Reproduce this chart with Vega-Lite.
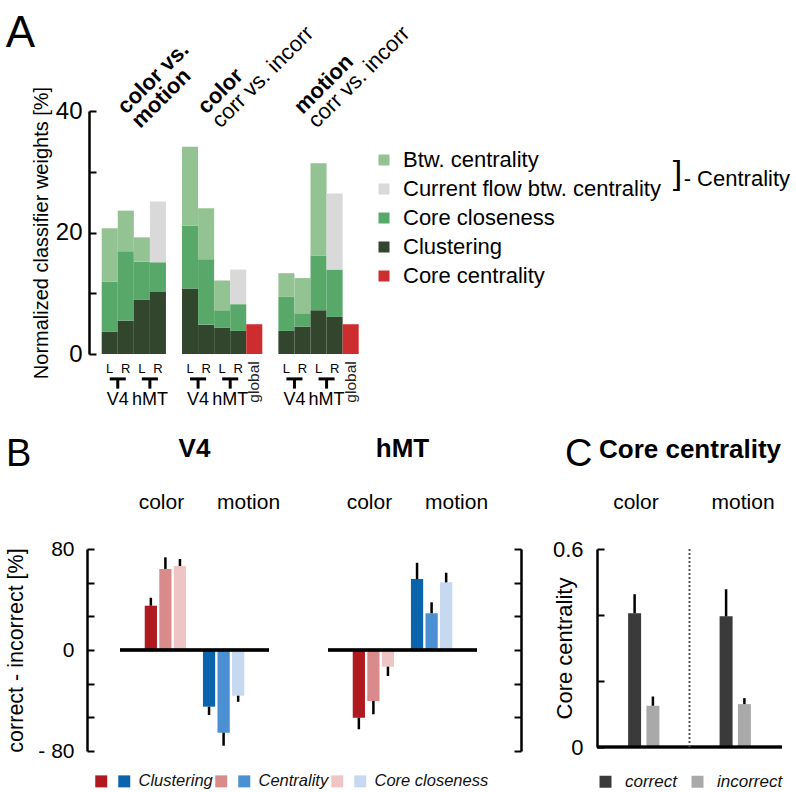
{
  "$schema": "https://vega.github.io/schema/vega-lite/v6.json",
  "padding": {"left": 5, "top": 8, "right": 5, "bottom": 0},
  "config": {
    "font": "Liberation Sans",
    "view": {"stroke": null},
    "axis": {"grid": false, "domainColor": "black", "tickColor": "black", "labelColor": "black", "titleColor": "black", "titleFontWeight": "normal", "labelFont": "Liberation Sans", "titleFont": "Liberation Sans"},
    "legend": {"labelColor": "#111", "labelFont": "Liberation Sans", "labelLimit": 400},
    "header": {"labelColor": "black", "labelFont": "Liberation Sans"},
    "title": {"color": "black", "fontWeight": "normal", "font": "Liberation Sans"},
    "text": {"font": "Liberation Sans", "color": "black"}
  },
  "datasets": {
    "A": [
      {"bar": "cm_V4_L", "seg": "Clustering", "value": 3.7},
      {"bar": "cm_V4_L", "seg": "Core closeness", "value": 8.2},
      {"bar": "cm_V4_L", "seg": "Btw. centrality", "value": 8.8},
      {"bar": "cm_V4_R", "seg": "Clustering", "value": 5.5},
      {"bar": "cm_V4_R", "seg": "Core closeness", "value": 11.4},
      {"bar": "cm_V4_R", "seg": "Btw. centrality", "value": 6.7},
      {"bar": "cm_hMT_L", "seg": "Clustering", "value": 8.9},
      {"bar": "cm_hMT_L", "seg": "Core closeness", "value": 6.3},
      {"bar": "cm_hMT_L", "seg": "Btw. centrality", "value": 4.0},
      {"bar": "cm_hMT_R", "seg": "Clustering", "value": 10.2},
      {"bar": "cm_hMT_R", "seg": "Core closeness", "value": 4.9},
      {"bar": "cm_hMT_R", "seg": "Current flow btw. centrality", "value": 10.0},
      {"bar": "co_V4_L", "seg": "Clustering", "value": 10.8},
      {"bar": "co_V4_L", "seg": "Core closeness", "value": 10.3},
      {"bar": "co_V4_L", "seg": "Btw. centrality", "value": 13.0},
      {"bar": "co_V4_R", "seg": "Clustering", "value": 4.8},
      {"bar": "co_V4_R", "seg": "Core closeness", "value": 10.8},
      {"bar": "co_V4_R", "seg": "Btw. centrality", "value": 8.4},
      {"bar": "co_hMT_L", "seg": "Clustering", "value": 4.3},
      {"bar": "co_hMT_L", "seg": "Core closeness", "value": 2.9},
      {"bar": "co_hMT_L", "seg": "Btw. centrality", "value": 4.9},
      {"bar": "co_hMT_R", "seg": "Clustering", "value": 3.8},
      {"bar": "co_hMT_R", "seg": "Core closeness", "value": 4.4},
      {"bar": "co_hMT_R", "seg": "Current flow btw. centrality", "value": 5.7},
      {"bar": "co_glob", "seg": "Core centrality", "value": 4.9},
      {"bar": "mo_V4_L", "seg": "Clustering", "value": 3.8},
      {"bar": "mo_V4_L", "seg": "Core closeness", "value": 5.6},
      {"bar": "mo_V4_L", "seg": "Btw. centrality", "value": 3.9},
      {"bar": "mo_V4_R", "seg": "Clustering", "value": 4.5},
      {"bar": "mo_V4_R", "seg": "Core closeness", "value": 2.2},
      {"bar": "mo_V4_R", "seg": "Btw. centrality", "value": 5.8},
      {"bar": "mo_hMT_L", "seg": "Clustering", "value": 7.2},
      {"bar": "mo_hMT_L", "seg": "Core closeness", "value": 9.0},
      {"bar": "mo_hMT_L", "seg": "Btw. centrality", "value": 15.2},
      {"bar": "mo_hMT_R", "seg": "Clustering", "value": 6.1},
      {"bar": "mo_hMT_R", "seg": "Core closeness", "value": 7.8},
      {"bar": "mo_hMT_R", "seg": "Current flow btw. centrality", "value": 12.5},
      {"bar": "mo_glob", "seg": "Core centrality", "value": 4.9}
    ],
    "Atitles": [
      {"bar": "cm_V4_L", "bold": "color vs.\nmotion", "normal": ""},
      {"bar": "co_V4_L", "bold": "color", "normal": "\ncorr vs. incorr"},
      {"bar": "mo_V4_L", "bold": "motion", "normal": "\ncorr vs. incorr"}
    ],
    "Agroups": [
      {"L": "cm_V4_L", "R": "cm_V4_R", "area": "V4"},
      {"L": "cm_hMT_L", "R": "cm_hMT_R", "area": "hMT"},
      {"L": "co_V4_L", "R": "co_V4_R", "area": "V4"},
      {"L": "co_hMT_L", "R": "co_hMT_R", "area": "hMT"},
      {"L": "mo_V4_L", "R": "mo_V4_R", "area": "V4"},
      {"L": "mo_hMT_L", "R": "mo_hMT_R", "area": "hMT"}
    ],
    "Aglobal": [{"bar": "co_glob"}, {"bar": "mo_glob"}],
    "B": [
      {"region": "V4", "task": "color", "measure": "Clustering", "series": "color|Clustering", "value": 35.1, "err": 41.4},
      {"region": "V4", "task": "color", "measure": "Centrality", "series": "color|Centrality", "value": 64.2, "err": 73.4},
      {"region": "V4", "task": "color", "measure": "Core closeness", "series": "color|Core closeness", "value": 66.5, "err": 72.1},
      {"region": "V4", "task": "motion", "measure": "Clustering", "series": "motion|Clustering", "value": -44.9, "err": -51.5},
      {"region": "V4", "task": "motion", "measure": "Centrality", "series": "motion|Centrality", "value": -65.5, "err": -75.8},
      {"region": "V4", "task": "motion", "measure": "Core closeness", "series": "motion|Core closeness", "value": -36.2, "err": -41.0},
      {"region": "hMT", "task": "color", "measure": "Clustering", "series": "color|Clustering", "value": -53.6, "err": -62.8},
      {"region": "hMT", "task": "color", "measure": "Centrality", "series": "color|Centrality", "value": -40.4, "err": -50.9},
      {"region": "hMT", "task": "color", "measure": "Core closeness", "series": "color|Core closeness", "value": -13.2, "err": -20.6},
      {"region": "hMT", "task": "motion", "measure": "Clustering", "series": "motion|Clustering", "value": 56.2, "err": 69.1},
      {"region": "hMT", "task": "motion", "measure": "Centrality", "series": "motion|Centrality", "value": 29.1, "err": 37.8},
      {"region": "hMT", "task": "motion", "measure": "Core closeness", "series": "motion|Core closeness", "value": 53.6, "err": 61.2}
    ],
    "C": [
      {"bar": "color|correct", "task": "color", "outcome": "correct", "value": 0.405, "err": 0.463},
      {"bar": "color|incorrect", "task": "color", "outcome": "incorrect", "value": 0.125, "err": 0.153},
      {"bar": "motion|correct", "task": "motion", "outcome": "correct", "value": 0.396, "err": 0.478},
      {"bar": "motion|incorrect", "task": "motion", "outcome": "incorrect", "value": 0.13, "err": 0.148}
    ]
  },
  "spacing": 27,
  "columns": 1,
  "align": "none",
  "resolve": {"scale": {"color": "independent"}, "legend": {"color": "independent"}},
  "concat": [
    {
      "width": 257,
      "height": 243,
      "layer": [
        {
          "data": {"name": "A"},
          "transform": [{"calculate": "indexof(['Clustering','Core closeness','Btw. centrality','Current flow btw. centrality','Core centrality'], datum.seg)", "as": "stackOrder"}],
          "mark": {"type": "bar"},
          "encoding": {
            "x": {"field": "bar", "type": "nominal",
              "scale": {"domain": ["cm_V4_L","cm_V4_R","cm_hMT_L","cm_hMT_R","gap1","co_V4_L","co_V4_R","co_hMT_L","co_hMT_R","co_glob","gap2","mo_V4_L","mo_V4_R","mo_hMT_L","mo_hMT_R","mo_glob"], "range": [-18.3, 238.7], "paddingInner": 0, "paddingOuter": 0},
              "axis": {"title": null, "domain": false, "ticks": false, "labelAngle": 0, "labelFontSize": 13, "labelPadding": 8, "labelExpr": "indexof(datum.value, '_L') > 0 ? 'L' : indexof(datum.value, '_R') > 0 ? 'R' : ''"}},
            "y": {"field": "value", "type": "quantitative", "stack": "zero", "scale": {"domain": [0, 40]},
              "axis": {"title": "Normalized classifier weights [%]", "titleFontSize": 20, "titlePadding": 4, "values": [0, 10, 20, 30, 40], "labelExpr": "datum.value % 20 == 0 ? datum.label : ''", "labelFontSize": 24, "labelPadding": 14, "offset": 31, "tickSize": -7, "tickWidth": 2, "domainWidth": 2.5}},
            "color": {"field": "seg", "type": "nominal",
              "scale": {"domain": ["Btw. centrality", "Current flow btw. centrality", "Core closeness", "Clustering", "Core centrality"], "range": ["#93c392", "#d9d9d9", "#57a869", "#31462c", "#cd2d2e"]},
              "legend": {"orient": "none", "legendX": 253, "legendY": 38, "title": null, "symbolType": "square", "symbolSize": 121, "symbolStrokeWidth": 0, "labelFontSize": 22, "labelOffset": 8, "rowPadding": 7, "padding": 0, "labelColor": "black", "labelLimit": 400}},
            "order": {"field": "stackOrder", "type": "quantitative"}
          }
        },
        {
          "data": {"values": [{"k": 1}]},
          "mark": {"type": "text", "align": "left", "baseline": "alphabetic", "fontSize": 44, "dx": -104},
          "encoding": {
            "x": {"datum": "cm_V4_L", "type": "nominal", "scale": {"domain": ["cm_V4_L","cm_V4_R","cm_hMT_L","cm_hMT_R","gap1","co_V4_L","co_V4_R","co_hMT_L","co_hMT_R","co_glob","gap2","mo_V4_L","mo_V4_R","mo_hMT_L","mo_hMT_R","mo_glob"], "range": [-18.3, 238.7], "paddingInner": 0, "paddingOuter": 0}},
            "y": {"datum": 50.5, "scale": {"domain": [0, 40]}},
            "text": {"value": "A"}
          }
        },
        {
          "data": {"name": "Atitles"},
          "mark": {"type": "text", "angle": 315, "align": "left", "baseline": "alphabetic", "fontSize": 22, "fontWeight": "bold", "lineBreak": "\n", "lineHeight": 20, "dx": 13, "dy": 10},
          "encoding": {
            "x": {"field": "bar", "type": "nominal", "scale": {"domain": ["cm_V4_L","cm_V4_R","cm_hMT_L","cm_hMT_R","gap1","co_V4_L","co_V4_R","co_hMT_L","co_hMT_R","co_glob","gap2","mo_V4_L","mo_V4_R","mo_hMT_L","mo_hMT_R","mo_glob"], "range": [-18.3, 238.7], "paddingInner": 0, "paddingOuter": 0}},
            "y": {"datum": 39, "scale": {"domain": [0, 40]}},
            "text": {"field": "bold"}
          }
        },
        {
          "data": {"name": "Atitles"},
          "mark": {"type": "text", "angle": 315, "align": "left", "baseline": "alphabetic", "fontSize": 22, "lineBreak": "\n", "lineHeight": 20, "dx": 13, "dy": 10},
          "encoding": {
            "x": {"field": "bar", "type": "nominal", "scale": {"domain": ["cm_V4_L","cm_V4_R","cm_hMT_L","cm_hMT_R","gap1","co_V4_L","co_V4_R","co_hMT_L","co_hMT_R","co_glob","gap2","mo_V4_L","mo_V4_R","mo_hMT_L","mo_hMT_R","mo_glob"], "range": [-18.3, 238.7], "paddingInner": 0, "paddingOuter": 0}},
            "y": {"datum": 39, "scale": {"domain": [0, 40]}},
            "text": {"field": "normal"}
          }
        },
        {
          "data": {"name": "Agroups"},
          "mark": {"type": "text", "fontSize": 18, "baseline": "middle", "align": "center"},
          "encoding": {
            "x": {"field": "R", "type": "nominal", "bandPosition": 0, "scale": {"domain": ["cm_V4_L","cm_V4_R","cm_hMT_L","cm_hMT_R","gap1","co_V4_L","co_V4_R","co_hMT_L","co_hMT_R","co_glob","gap2","mo_V4_L","mo_V4_R","mo_hMT_L","mo_hMT_R","mo_glob"], "range": [-18.3, 238.7], "paddingInner": 0, "paddingOuter": 0}},
            "y": {"datum": -7.5, "scale": {"domain": [0, 40]}},
            "text": {"field": "area"}
          }
        },
        {
          "data": {"name": "Agroups"},
          "mark": {"type": "rule", "strokeWidth": 3, "color": "black"},
          "encoding": {
            "x": {"field": "L", "type": "nominal", "scale": {"domain": ["cm_V4_L","cm_V4_R","cm_hMT_L","cm_hMT_R","gap1","co_V4_L","co_V4_R","co_hMT_L","co_hMT_R","co_glob","gap2","mo_V4_L","mo_V4_R","mo_hMT_L","mo_hMT_R","mo_glob"], "range": [-18.3, 238.7], "paddingInner": 0, "paddingOuter": 0}},
            "x2": {"field": "R"},
            "y": {"datum": -4.1, "scale": {"domain": [0, 40]}}
          }
        },
        {
          "data": {"name": "Agroups"},
          "mark": {"type": "rule", "strokeWidth": 3, "color": "black"},
          "encoding": {
            "x": {"field": "R", "type": "nominal", "bandPosition": 0, "scale": {"domain": ["cm_V4_L","cm_V4_R","cm_hMT_L","cm_hMT_R","gap1","co_V4_L","co_V4_R","co_hMT_L","co_hMT_R","co_glob","gap2","mo_V4_L","mo_V4_R","mo_hMT_L","mo_hMT_R","mo_glob"], "range": [-18.3, 238.7], "paddingInner": 0, "paddingOuter": 0}},
            "y": {"datum": -4.1, "scale": {"domain": [0, 40]}},
            "y2": {"datum": -5.7}
          }
        },
        {
          "data": {"name": "Aglobal"},
          "mark": {"type": "text", "angle": 270, "align": "right", "baseline": "middle", "fontSize": 15.5, "color": "#222"},
          "encoding": {
            "x": {"field": "bar", "type": "nominal", "scale": {"domain": ["cm_V4_L","cm_V4_R","cm_hMT_L","cm_hMT_R","gap1","co_V4_L","co_V4_R","co_hMT_L","co_hMT_R","co_glob","gap2","mo_V4_L","mo_V4_R","mo_hMT_L","mo_hMT_R","mo_glob"], "range": [-18.3, 238.7], "paddingInner": 0, "paddingOuter": 0}},
            "y": {"datum": -1.2, "scale": {"domain": [0, 40]}},
            "text": {"value": "global"}
          }
        },
        {
          "data": {"values": [{"k": 1}]},
          "mark": {"type": "text", "align": "left", "baseline": "alphabetic", "fontSize": 34, "dx": 322},
          "encoding": {
            "x": {"datum": "mo_glob", "type": "nominal", "scale": {"domain": ["cm_V4_L","cm_V4_R","cm_hMT_L","cm_hMT_R","gap1","co_V4_L","co_V4_R","co_hMT_L","co_hMT_R","co_glob","gap2","mo_V4_L","mo_V4_R","mo_hMT_L","mo_hMT_R","mo_glob"], "range": [-18.3, 238.7], "paddingInner": 0, "paddingOuter": 0}},
            "y": {"datum": 28, "scale": {"domain": [0, 40]}},
            "text": {"value": "]"}
          }
        },
        {
          "data": {"values": [{"k": 1}]},
          "mark": {"type": "text", "align": "left", "baseline": "alphabetic", "fontSize": 22, "dx": 333},
          "encoding": {
            "x": {"datum": "mo_glob", "type": "nominal", "scale": {"domain": ["cm_V4_L","cm_V4_R","cm_hMT_L","cm_hMT_R","gap1","co_V4_L","co_V4_R","co_hMT_L","co_hMT_R","co_glob","gap2","mo_V4_L","mo_V4_R","mo_hMT_L","mo_hMT_R","mo_glob"], "range": [-18.3, 238.7], "paddingInner": 0, "paddingOuter": 0}},
            "y": {"datum": 27.7, "scale": {"domain": [0, 40]}},
            "text": {"value": "- Centrality"}
          }
        }
      ]
    },
    {
      "spacing": 30,
      "resolve": {"scale": {"color": "independent"}, "legend": {"color": "independent"}},
      "hconcat": [
        {
          "data": {"name": "B"},
          "title": {"text": "B", "anchor": "start", "frame": "group", "fontSize": 38, "dx": -114, "dy": 38, "offset": 0},
          "facet": {"column": {"field": "region", "type": "nominal", "sort": ["V4", "hMT"],
            "header": {"title": null, "labelFontSize": 26, "labelFontWeight": "bold", "labelPadding": 29}}},
          "spacing": 55,
          "spec": {
            "width": 149,
            "height": 202,
            "layer": [
              {
                "mark": {"type": "bar"},
                "encoding": {
                  "x": {"field": "series", "type": "nominal",
                    "scale": {"domain": ["pre", "color|Clustering", "color|Centrality", "color|Core closeness", "gap", "motion|Clustering", "motion|Centrality", "motion|Core closeness", "post"], "paddingInner": 0.16, "paddingOuter": 0.7},
                    "axis": {"orient": "top", "title": null, "domain": false, "ticks": false, "labelAngle": 0, "labelFontSize": 21, "labelPadding": 37,
                      "labelExpr": "datum.value == 'color|Centrality' ? 'color' : datum.value == 'motion|Centrality' ? 'motion' : ''",
                      "labelOffset": {"condition": {"test": "datum.value == 'motion|Centrality'", "value": 25}, "value": -4}}},
                  "y": {"field": "value", "type": "quantitative", "scale": {"domain": [-80, 80]},
                    "axis": {"title": "correct - incorrect [%]", "titleFontSize": 21.5, "titlePadding": 10, "values": [-80, -53.333, -26.667, 0, 26.667, 53.333, 80],
                      "labelExpr": "datum.value == 80 ? '80' : datum.value == 0 ? '0' : datum.value == -80 ? '- 80' : ''", "labelFontSize": 21, "labelPadding": 20, "offset": 31, "tickSize": -7, "tickWidth": 2, "domainWidth": 2.5}},
                  "color": {"field": "series", "type": "nominal",
                    "scale": {"domain": ["color|Clustering", "motion|Clustering", "color|Centrality", "motion|Centrality", "color|Core closeness", "motion|Core closeness"],
                      "range": ["#ae1a1f", "#0a64ac", "#d98a8b", "#4a90d2", "#efc4c5", "#c6d9f1"]},
                    "legend": {"orient": "none", "legendX": -27, "legendY": 224, "direction": "horizontal", "columns": 6, "title": null, "symbolType": "square", "symbolSize": 144, "symbolStrokeWidth": 0,
                      "labelFontSize": 16.5, "labelFontStyle": "italic", "labelOffset": 6, "columnPadding": -3, "padding": 0,
                      "labelExpr": "indexof(datum.value, 'motion') == 0 ? slice(datum.value, 7) : ''"}}
                }
              },
              {
                "mark": {"type": "rule", "strokeWidth": 2.5, "color": "black"},
                "encoding": {
                  "x": {"field": "series", "type": "nominal",
                    "scale": {"domain": ["pre", "color|Clustering", "color|Centrality", "color|Core closeness", "gap", "motion|Clustering", "motion|Centrality", "motion|Core closeness", "post"], "paddingInner": 0.16, "paddingOuter": 0.7}},
                  "y": {"field": "value", "type": "quantitative", "scale": {"domain": [-80, 80]},
                    "axis": {"orient": "right", "title": null, "labels": false, "values": [-80, -53.333, -26.667, 0, 26.667, 53.333, 80], "offset": 42, "tickSize": -7, "tickWidth": 2, "domainWidth": 2.5}},
                  "y2": {"field": "err"}
                }
              },
              {
                "mark": {"type": "rule", "strokeWidth": 2.5, "color": "black"},
                "encoding": {"y": {"datum": 0, "scale": {"domain": [-80, 80]}, "axis": null}}
              }
            ],
            "resolve": {"axis": {"y": "independent"}}
          }
        },
        {
          "data": {"name": "C"},
          "title": {"text": "C", "anchor": "start", "frame": "group", "fontSize": 38, "dx": -32, "dy": 38, "offset": 0},
          "width": 185,
          "height": 198,
          "layer": [
            {
              "mark": {"type": "bar"},
              "encoding": {
                "x": {"field": "bar", "type": "nominal",
                  "scale": {"domain": ["pre", "color|correct", "color|incorrect", "g1", "div", "g2", "motion|correct", "motion|incorrect", "post"], "paddingInner": 0.29, "paddingOuter": 0.7},
                  "axis": {"orient": "top", "title": "Core centrality", "titleFontSize": 26, "titleFontWeight": "bold", "titlePadding": 29, "domain": false, "ticks": false, "labelAngle": 0, "labelFontSize": 21, "labelPadding": 37,
                    "labelExpr": "datum.value == 'color|incorrect' ? 'color' : datum.value == 'motion|correct' ? 'motion' : ''",
                    "labelOffset": {"condition": {"test": "datum.value == 'motion|correct'", "value": 17}, "value": -17}}},
                "y": {"field": "value", "type": "quantitative", "scale": {"domain": [0, 0.6]},
                  "axis": {"title": "Core centrality", "titleFontSize": 22, "titlePadding": -24, "offset": 0, "values": [0, 0.1, 0.2, 0.3, 0.4, 0.5, 0.6],
                    "labelExpr": "datum.value == 0 ? '0' : datum.value == 0.6 ? '0.6' : ''", "labelFontSize": 22, "labelPadding": 21, "tickSize": -7, "tickWidth": 2, "domainWidth": 2.5}},
                "color": {"field": "outcome", "type": "nominal", "scale": {"domain": ["correct", "incorrect"], "range": ["#3a3a3a", "#a9a9a9"]},
                  "legend": {"orient": "bottom", "direction": "horizontal", "title": null, "symbolType": "square", "symbolSize": 144, "symbolStrokeWidth": 0,
                    "labelFontSize": 17, "labelFontStyle": "italic", "labelOffset": 11, "columnPadding": 12, "offset": 26, "padding": 0}}
              }
            },
            {
              "mark": {"type": "rule", "strokeWidth": 2.5, "color": "black"},
              "encoding": {
                "x": {"field": "bar", "type": "nominal",
                  "scale": {"domain": ["pre", "color|correct", "color|incorrect", "g1", "div", "g2", "motion|correct", "motion|incorrect", "post"], "paddingInner": 0.29, "paddingOuter": 0.7}},
                "y": {"field": "value", "type": "quantitative", "scale": {"domain": [0, 0.6]}},
                "y2": {"field": "err"}
              }
            },
            {
              "mark": {"type": "rule", "strokeWidth": 2.5, "color": "black"},
              "encoding": {"y": {"datum": 0, "scale": {"domain": [0, 0.6]}}}
            },
            {
              "data": {"values": [{"k": 1}]},
              "mark": {"type": "rule", "strokeWidth": 2, "strokeDash": [2, 2], "color": "#555"},
              "encoding": {"x": {"datum": "div", "type": "nominal",
                "scale": {"domain": ["pre", "color|correct", "color|incorrect", "g1", "div", "g2", "motion|correct", "motion|incorrect", "post"], "paddingInner": 0.29, "paddingOuter": 0.7}}}
            }
          ]
        }
      ]
    }
  ]
}
